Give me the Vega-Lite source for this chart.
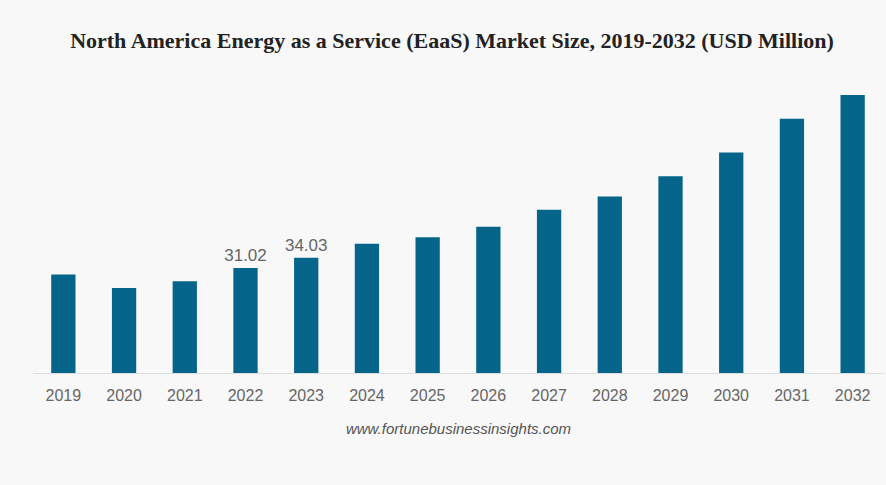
{
  "$schema": "https://vega.github.io/schema/vega-lite/v6.json",
  "autosize": "none",
  "width": 850,
  "height": 305,
  "padding": {"left": 33, "top": 68, "right": 3, "bottom": 112},
  "background": "#f8f8f8",
  "title": {
    "text": "North America Energy as a Service (EaaS) Market Size, 2019-2032 (USD Million)",
    "font": "Liberation Serif",
    "fontSize": 22,
    "fontWeight": "bold",
    "color": "#222222",
    "anchor": "middle",
    "dx": -6,
    "offset": 15
  },
  "data": {
    "values": [
      {"year": "2019", "value": 29.04},
      {"year": "2020", "value": 25.11},
      {"year": "2021", "value": 27.06},
      {"year": "2022", "value": 31.02},
      {"year": "2023", "value": 34.03},
      {"year": "2024", "value": 38.11},
      {"year": "2025", "value": 40.06},
      {"year": "2026", "value": 43.13},
      {"year": "2027", "value": 48.15},
      {"year": "2028", "value": 52.08},
      {"year": "2029", "value": 58.08},
      {"year": "2030", "value": 65.08},
      {"year": "2031", "value": 75.04},
      {"year": "2032", "value": 82.01}
    ]
  },
  "encoding": {
    "x": {
      "field": "year",
      "type": "nominal",
      "scale": {"paddingInner": 0.6, "paddingOuter": 0.3},
      "axis": {
        "title": "www.fortunebusinessinsights.com",
        "titleFont": "Liberation Sans",
        "titleFontStyle": "italic",
        "titleFontWeight": "normal",
        "titleFontSize": 15,
        "titleColor": "#555555",
        "titlePadding": 18,
        "labelAngle": 0,
        "labelFont": "Liberation Sans",
        "labelFontSize": 16,
        "labelColor": "#666666",
        "labelPadding": 14,
        "ticks": false,
        "domainColor": "#dddddd",
        "grid": false
      }
    },
    "y": {
      "field": "value",
      "type": "quantitative",
      "scale": {"domain": [0, 90], "nice": false},
      "axis": null
    }
  },
  "layer": [
    {
      "mark": {"type": "bar", "color": "#05648a"}
    },
    {
      "transform": [{"filter": {"field": "year", "oneOf": ["2022", "2023"]}}],
      "mark": {
        "type": "text",
        "baseline": "bottom",
        "dy": -3,
        "font": "Liberation Sans",
        "fontSize": 17,
        "color": "#666666"
      },
      "encoding": {
        "text": {"field": "value", "type": "quantitative", "format": ".2f"}
      }
    }
  ],
  "config": {
    "view": {"stroke": null}
  }
}
